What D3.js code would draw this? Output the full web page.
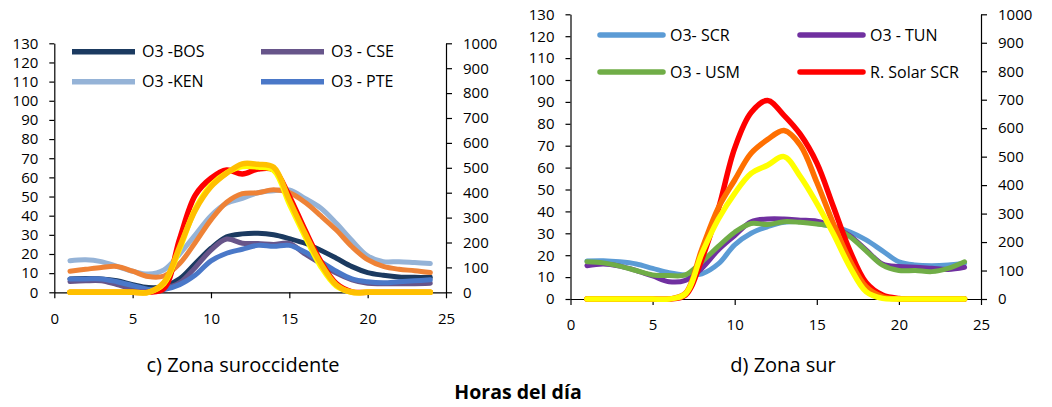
<!DOCTYPE html>
<html>
<head>
<meta charset="utf-8">
<script src="https://cdn.jsdelivr.net/npm/d3@7"></script>
<style>
  html, body { margin: 0; padding: 0; background: #fff; }
  svg { display: block; font-family: "Open Sans", Lato, sans-serif; }
</style>
</head>
<body>
<svg id="chart" width="1052" height="407"></svg>
<script>
// Hours of the day (x values shared by every series)
const hours = [1,2,3,4,5,6,7,8,9,10,11,12,13,14,15,16,17,18,19,20,21,22,23,24];

// Axis ticks
const xTicks = [0, 5, 10, 15, 20, 25];
const o3Ticks = [0,10,20,30,40,50,60,70,80,90,100,110,120,130];
const solarTicks = [0,100,200,300,400,500,600,700,800,900,1000];

// c) Zona suroccidente — ozone (left axis)
const o3BOS = [7,7.2,7,6,4,2.5,3,7,15,23,29,30.5,30.8,30,28,25.6,22,17.8,13.4,10.3,8.9,8,7.8,7.8];
const o3CSE = [5.6,6,6,4,2,1.5,2,5,13,22,27.8,25.6,25.5,25,25.5,20,15,10,6.5,4.7,4.5,4.5,4.5,4.7];
const o3KEN = [16.5,17,16,13.5,11,9.5,11.7,20,30,40,46.5,49,52,53,53.4,49,44,36,27,19,16,16,15.5,15];
const o3PTE = [7,7,7,5.5,3.5,1.5,1.5,4,9,16.4,20.4,22.5,24.5,24,24.5,21,16,11,7,5.5,5,5.5,6,6.5];
const o3SW5 = [11,12,13,13.5,11,8.2,8.5,15,26,37.8,47,51.5,52,53.5,52,47,40,32.5,23.8,17,13.5,12,11.3,10.3];
// c) Zona suroccidente — solar radiation (right axis)
const solarSW1 = [0,0,0,0,0,0,15,215,390,458,491,475,495,492,385,250,125,35,2,0,0,0,0,0];
const solarSW2 = [0,0,0,0,0,0,35,175,335,430,480,505,503,490,355,225,105,25,0,0,0,0,0,0];
const solarSW3 = [0,0,0,0,0,0,40,183,330,424,478,516,514,502,370,237,116,30,0,0,0,0,0,0];

// d) Zona sur — ozone (left axis)
const o3SCR = [17.4,17.5,17,16,14,12,11,11.5,16,24.7,30,33,35,35.3,34.5,33,30.7,27,22,17,15.5,15.2,15.5,16.3];
const o3TUN = [15.2,16,15,13,10.5,7.9,8.5,14,22.4,29,35.3,36.5,36.5,36,35.5,33,29,22.4,16,14.8,14.5,14,13.5,14.5];
const o3USM = [17,16.5,15,13,11,10.7,11,17,24,30.5,34.5,34,35.3,35,34.2,33,28.5,22,15.5,13,13,12.5,14,17];
// d) Zona sur — solar radiation (right axis)
const solarSCR = [0,0,0,0,0,0,14,140,315,530,655,697,645,578,478,326,172,58,14,2,0,0,0,0];
const solarS2 = [0,0,0,0,0,0,20,175,320,418,512,560,592,540,410,266,137,43,8,0,0,0,0,0];
const solarS3 = [0,0,0,0,0,0,18,160,280,371,441,470,500,430,336,230,114,26,2,0,0,0,0,0];

const svg = d3.select("#chart");
const FONT = "'Open Sans', Lato, sans-serif";

function drawPanel(cfg) {
  const g = svg.append("g");
  const x = d3.scaleLinear().domain([0, 25]).range([cfg.left, cfg.right]);
  const yL = d3.scaleLinear().domain([0, 130]).range([cfg.bottom, cfg.top]);
  const yR = d3.scaleLinear().domain([0, 1000]).range([cfg.bottom, cfg.top]);

  const styleAxis = sel => {
    sel.select(".domain").attr("stroke", "#000").attr("stroke-width", 1.2);
    sel.selectAll(".tick line").attr("stroke", "#000").attr("stroke-width", 1.2);
    sel.selectAll(".tick text").attr("fill", "#000").style("font-size", "15px")
      .style("font-family", FONT);
  };

  g.append("g").attr("transform", `translate(0,${cfg.bottom})`)
    .call(d3.axisBottom(x).tickValues(xTicks).tickFormat(d3.format("d"))
      .tickSize(6).tickSizeOuter(0).tickPadding(cfg.xPad))
    .call(styleAxis);
  g.append("g").attr("transform", `translate(${cfg.left},0)`)
    .call(d3.axisLeft(yL).tickValues(o3Ticks).tickFormat(d3.format("d"))
      .tickSize(5).tickSizeOuter(0).tickPadding(11))
    .call(styleAxis);
  g.append("g").attr("transform", `translate(${cfg.right},0)`)
    .call(d3.axisRight(yR).tickValues(solarTicks).tickFormat(d3.format("d"))
      .tickSize(6).tickSizeOuter(0).tickPadding(11))
    .call(styleAxis);

  const curve = d3.curveCatmullRom.alpha(0.5);
  cfg.series.forEach(s => {
    const y = s.axis === "right" ? yR : yL;
    const line = d3.line().x((d, i) => x(hours[i])).y(d => y(d)).curve(curve);
    g.append("path").datum(s.values)
      .attr("d", line)
      .attr("fill", "none")
      .attr("stroke", s.color)
      .attr("stroke-width", s.width)
      .attr("stroke-linejoin", "round")
      .attr("stroke-linecap", "round");
  });

  // Legend
  cfg.legend.forEach(l => {
    g.append("line")
      .attr("x1", l.x).attr("x2", l.x + cfg.legendLen)
      .attr("y1", l.y).attr("y2", l.y)
      .attr("stroke", l.color).attr("stroke-width", 5.5)
      .attr("stroke-linecap", cfg.legendCap);
    g.append("text")
      .attr("x", l.x + cfg.legendLen + cfg.legendGap).attr("y", l.y)
      .attr("dy", "0.36em")
      .style("font-size", "16px").attr("fill", "#000")
      .text(l.label);
  });

  g.append("text")
    .attr("x", cfg.captionX).attr("y", 365)
    .attr("dy", "0.36em")
    .attr("text-anchor", "middle")
    .style("font-size", "20px").attr("fill", "#000")
    .text(cfg.caption);
}

drawPanel({
  left: 54.3, right: 446, top: 43.3, bottom: 292.3, xPad: 15,
  caption: "c) Zona suroccidente", captionX: 243,
  series: [
    { values: o3BOS, color: "#1B3A60", width: 5, axis: "left" },
    { values: o3CSE, color: "#67558A", width: 5, axis: "left" },
    { values: o3KEN, color: "#95B3D7", width: 5, axis: "left" },
    { values: o3PTE, color: "#4A78C8", width: 5, axis: "left" },
    { values: o3SW5, color: "#EE8236", width: 5, axis: "left" },
    { values: solarSW1, color: "#FF0000", width: 5.5, axis: "right" },
    { values: solarSW2, color: "#FFFF00", width: 5.5, axis: "right" },
    { values: solarSW3, color: "#FFC000", width: 5.5, axis: "right" }
  ],
  legendLen: 63, legendGap: 7, legendCap: "butt",
  legend: [
    { label: "O3 -BOS", color: "#1B3A60", x: 72, y: 51.7 },
    { label: "O3 - CSE", color: "#67558A", x: 261, y: 51.7 },
    { label: "O3 -KEN", color: "#95B3D7", x: 72, y: 81.7 },
    { label: "O3 - PTE", color: "#4A78C8", x: 261, y: 81.7 }
  ]
});

drawPanel({
  left: 570.5, right: 981, top: 14.3, bottom: 299, xPad: 14,
  caption: "d) Zona sur", captionX: 783,
  series: [
    { values: o3SCR, color: "#5B9BD5", width: 5, axis: "left" },
    { values: o3TUN, color: "#7030A0", width: 5, axis: "left" },
    { values: o3USM, color: "#70AD47", width: 5, axis: "left" },
    { values: solarSCR, color: "#FF0000", width: 5.5, axis: "right" },
    { values: solarS2, color: "#FF6F00", width: 5.5, axis: "right" },
    { values: solarS3, color: "#FFFF00", width: 5.5, axis: "right" }
  ],
  legendLen: 63, legendGap: 7, legendCap: "round",
  legend: [
    { label: "O3- SCR", color: "#5B9BD5", x: 600, y: 35 },
    { label: "O3 - TUN", color: "#7030A0", x: 800, y: 35 },
    { label: "O3 - USM", color: "#70AD47", x: 600, y: 72 },
    { label: "R. Solar SCR", color: "#FF0000", x: 800, y: 72 }
  ]
});

svg.append("text")
  .attr("x", 518).attr("y", 392)
  .attr("dy", "0.36em")
  .attr("text-anchor", "middle")
  .style("font-size", "19.5px").style("font-weight", "bold").attr("fill", "#000")
  .text("Horas del día");
</script>
</body>
</html>
